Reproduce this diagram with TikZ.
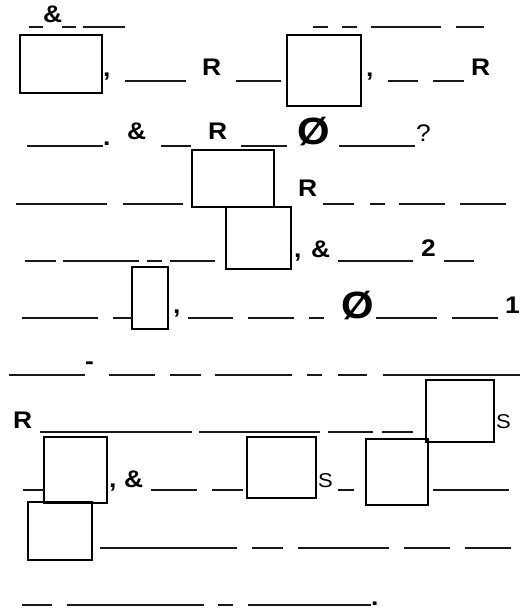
\documentclass[tikz,border=0pt]{standalone}
\usepackage{fontspec}
\setmainfont[FakeStretch=1.1]{Liberation Sans}
\usetikzlibrary{positioning}
\tikzset{
  blank/.style={line width=1.5pt,black!90},
  box/.style={draw,line width=1.6pt},
  bold/.style={inner sep=0pt,anchor=base west,font=\fontsize{24}{24}\selectfont\bfseries},
  plain/.style={inner sep=0pt,anchor=base west,font=\fontsize{24}{24}\selectfont},
  small/.style={inner sep=0pt,anchor=base west,font=\fontsize{20}{20}\selectfont},
  big/.style={inner sep=0pt,anchor=base west,font=\fontsize{38}{38}\selectfont\bfseries}
}
\newcommand{\blankrow}[2]{\foreach \a/\b in {#2} \draw[blank] (\a,#1) -- (\b,#1);}
\begin{document}
\begin{tikzpicture}[x=1pt,y=-1pt]
\useasboundingbox (0,0) rectangle (529,609);
% boxes
\draw[box] (20,35) rectangle (102,93);
\draw[box] (287,35) rectangle (361,106);
\draw[box] (192,150) rectangle (274,207);
\draw[box] (226,207) rectangle (291,269);
\draw[box] (132,267) rectangle (168,329);
\draw[box] (426,380) rectangle (494,442);
\draw[box] (44,437) rectangle (107,503);
\draw[box] (247,437) rectangle (316,498);
\draw[box] (366,439) rectangle (428,505);
\draw[box] (28,502) rectangle (92,560);
% blanks, row by row
\blankrow{27}{29/43,62/76,83/125,313/328,342/357,371/441,456/484}
\blankrow{81}{125/186,236/281,388/418,433/464}
\blankrow{146}{27/103,161/191,241/287,339/415}
\blankrow{204}{16/107,123/183,323/354,370/385,399/445,460/506}
\blankrow{261}{25/56,63/139,147/162,170/215,338/413,444/474}
\blankrow{318}{22/98,113/132,188/233,248/294,309/324,376/437,452/498}
\blankrow{375}{9/85,109/155,170/201,215/292,307/322,338/367,383/520}
\blankrow{432}{40/192,199/320,328/373,382/413}
\blankrow{490}{23/44,151/197,212/243,338/354,433/509}
\blankrow{548}{100/237,252/283,298/389,404/450,465/511}
\blankrow{605}{22/52,67/204,218/233,248/371}
% texts
\node[bold] (amp0) at (43,23) {\&};
\node[bold] (cm1) at (103,77) {,};
\node[bold] (r1) at (202,76) {R};
\node[bold] (cm2) at (366,77) {,};
\node[bold] (r2) at (471,76) {R};
\node[bold] (dot1) at (103,146) {.};
\node[bold] (amp2) at (127,140) {\&};
\node[bold] (r3) at (208,140) {R};
\node[big] (empty1) at (297,145) {Ø};
\node[plain] (qm) at (416,142) {?};
\node[bold] (r4) at (298,197) {R};
\node[bold] (cm3) at (294,257) {,};
\node[bold] (amp4) at (311,257) {\&};
\node[bold] (two) at (421,256) {2};
\node[bold] (cm4) at (173,313) {,};
\node[big] (empty2) at (341,318) {Ø};
\node[bold] (one) at (505,313) {1};
\node[bold] (dash) at (85,369) {-};
\node[bold] (r5) at (13,428) {R};
\node[small] (s1) at (496,428) {S};
\node[bold] (cm5) at (109,487) {,};
\node[bold] (amp8) at (124,487) {\&};
\node[small] (s2) at (318,487) {S};
\node[bold] (dot2) at (371,605) {.};
\end{tikzpicture}
\end{document}
